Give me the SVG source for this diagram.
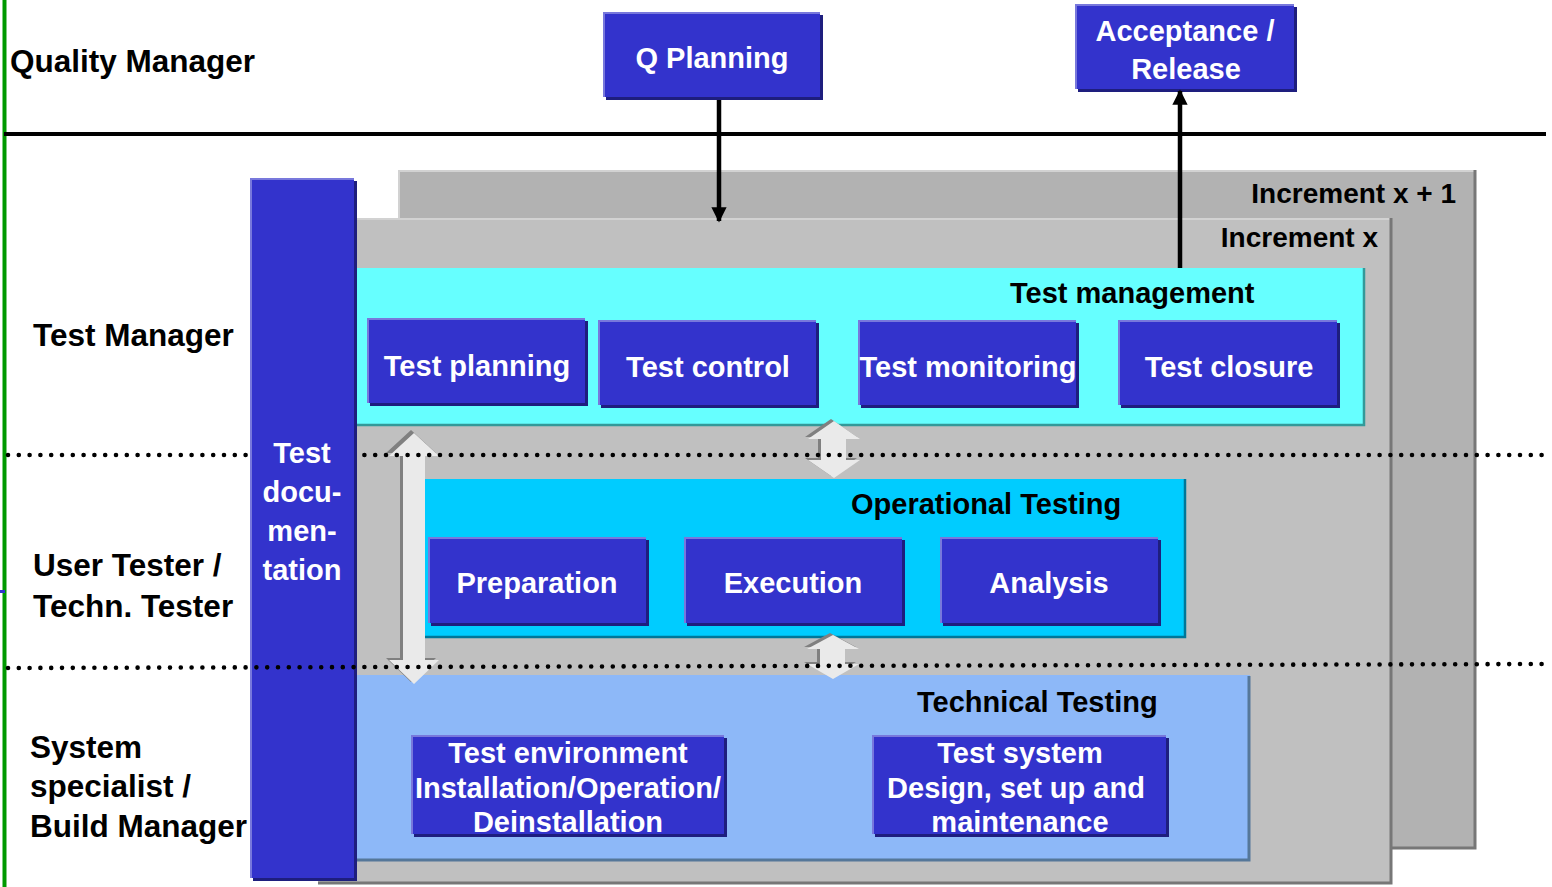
<svg xmlns="http://www.w3.org/2000/svg" width="1552" height="887" viewBox="0 0 1552 887">
<style>
text{font-family:"Liberation Sans",Arial,sans-serif;font-weight:bold}
.role{font-size:31.5px;fill:#000}
.bt{font-size:29px;fill:#fff;text-anchor:middle}
.sec{font-size:29px;fill:#000}
.inc{font-size:28px;fill:#000;text-anchor:end}
.sh{fill:#1E1E7E}
.bx{fill:#3333CC}
.hl{fill:none;stroke:#7878DC;stroke-width:2}
.dots{fill:none;stroke:#000;stroke-width:4.6;stroke-linecap:round;stroke-dasharray:0 10.8}
.conn{stroke:#000;stroke-width:4.5;fill:none}
.arrS{fill:#808080}
.arrL{fill:#EAEAEA}
</style>
<defs>
<marker id="ah" viewBox="0 0 10 10" refX="9" refY="5" markerWidth="3.4" markerHeight="3.4" orient="auto" markerUnits="strokeWidth">
<path d="M0 0 L10 5 L0 10 Z" fill="#000"/>
</marker>
</defs>
<rect width="1552" height="887" fill="#fff"/>

<!-- swimlane lines -->
<g id="lanes">
<line x1="4.5" y1="0" x2="4.5" y2="887" stroke="#009900" stroke-width="4"/>
<rect x="0" y="590" width="5" height="3" fill="#3333CC"/>
<line x1="4" y1="134" x2="1546" y2="134" stroke="#000" stroke-width="4"/>
</g>

<!-- increments -->
<g id="increment-x1">
<rect x="398" y="170" width="1078" height="679" fill="#B2B2B2"/>
<path d="M399 849 V171 H1475" fill="none" stroke="#D2D2D2" stroke-width="2"/>
<path d="M1475 170 V848 H398" fill="none" stroke="#777" stroke-width="3"/>
<text class="inc" x="1456" y="203">Increment x + 1</text>
</g>
<g id="increment-x">
<rect x="318" y="218" width="1074" height="666" fill="#C0C0C0"/>
<path d="M319 884 V219 H1391" fill="none" stroke="#D2D2D2" stroke-width="2"/>
<path d="M1391 218 V883 H318" fill="none" stroke="#777" stroke-width="3"/>
<text class="inc" x="1378" y="247">Increment x</text>
</g>

<!-- Test management -->
<g id="test-management">
<rect x="356" y="268" width="1009" height="158" fill="#66FFFF"/>
<path d="M1364 268 V425 H356" fill="none" stroke="#339999" stroke-width="2.5"/>
<text class="sec" x="1010" y="303">Test management</text>
</g>
<g id="test-planning">
<rect class="sh" x="370" y="321" width="218" height="85"/>
<rect class="bx" x="367" y="318" width="218" height="85"/>
<path class="hl" d="M368 403 V319 H585"/>
<text class="bt" x="477" y="376">Test planning</text>
</g>
<g id="test-control">
<rect class="sh" x="601" y="323" width="218" height="85"/>
<rect class="bx" x="598" y="320" width="218" height="85"/>
<path class="hl" d="M599 405 V321 H816"/>
<text class="bt" x="708" y="377">Test control</text>
</g>
<g id="test-monitoring">
<rect class="sh" x="861" y="323" width="218" height="85"/>
<rect class="bx" x="858" y="320" width="218" height="85"/>
<path class="hl" d="M859 405 V321 H1076"/>
<text class="bt" x="968" y="377">Test monitoring</text>
</g>
<g id="test-closure">
<rect class="sh" x="1121" y="323" width="219" height="85"/>
<rect class="bx" x="1118" y="320" width="219" height="85"/>
<path class="hl" d="M1119 405 V321 H1337"/>
<text class="bt" x="1229" y="377">Test closure</text>
</g>

<!-- Operational testing -->
<g id="operational-testing">
<rect x="425" y="479" width="761" height="159" fill="#00CCFF"/>
<path d="M1185 479 V637 H425" fill="none" stroke="#007799" stroke-width="2.5"/>
<text class="sec" x="851" y="514">Operational Testing</text>
</g>
<g id="preparation">
<rect class="sh" x="431" y="540" width="218" height="86"/>
<rect class="bx" x="428" y="537" width="218" height="86"/>
<path class="hl" d="M429 623 V538 H646"/>
<text class="bt" x="537" y="593">Preparation</text>
</g>
<g id="execution">
<rect class="sh" x="687" y="540" width="218" height="86"/>
<rect class="bx" x="684" y="537" width="218" height="86"/>
<path class="hl" d="M685 623 V538 H902"/>
<text class="bt" x="793" y="593">Execution</text>
</g>
<g id="analysis">
<rect class="sh" x="943" y="540" width="218" height="86"/>
<rect class="bx" x="940" y="537" width="218" height="86"/>
<path class="hl" d="M941 623 V538 H1158"/>
<text class="bt" x="1049" y="593">Analysis</text>
</g>

<!-- Technical testing -->
<g id="technical-testing">
<rect x="356" y="675" width="894" height="186" fill="#8DB8F8"/>
<path d="M1249 676 V860 H356" fill="none" stroke="#557799" stroke-width="3"/>
<text class="sec" x="917" y="712">Technical Testing</text>
</g>
<g id="test-environment">
<rect class="sh" x="414" y="738" width="313" height="99"/>
<rect class="bx" x="411" y="735" width="313" height="99"/>
<path class="hl" d="M412 834 V736 H724"/>
<text class="bt" x="568" y="763">Test environment</text>
<text class="bt" x="568" y="798">Installation/Operation/</text>
<text class="bt" x="568" y="832">Deinstallation</text>
</g>
<g id="test-system">
<rect class="sh" x="875" y="738" width="294" height="99"/>
<rect class="bx" x="872" y="735" width="294" height="99"/>
<path class="hl" d="M873 834 V736 H1166"/>
<text class="bt" x="1020" y="763">Test system</text>
<text class="bt" x="1016" y="798">Design, set up and</text>
<text class="bt" x="1020" y="832">maintenance</text>
</g>

<!-- Quality manager nodes -->
<g id="q-planning">
<rect class="sh" x="606" y="15" width="217" height="85"/>
<rect class="bx" x="603" y="12" width="217" height="85"/>
<path class="hl" d="M604 97 V13 H820"/>
<text class="bt" x="712" y="68">Q Planning</text>
</g>
<g id="acceptance-release">
<rect class="sh" x="1078" y="7" width="219" height="85"/>
<rect class="bx" x="1075" y="4" width="219" height="85"/>
<path class="hl" d="M1076 89 V5 H1294"/>
<text class="bt" x="1185" y="41">Acceptance /</text>
<text class="bt" x="1186" y="79">Release</text>
</g>

<!-- connectors -->
<g id="connectors">
<line class="conn" x1="719" y1="100" x2="719" y2="221" marker-end="url(#ah)"/>
<line class="conn" x1="1180" y1="268" x2="1180" y2="91" marker-end="url(#ah)"/>
<g id="arrow-left">
<polygon class="arrS" points="411,430 436,453 422,453 422,658 436,658 411,682 386,658 400,658 400,453 386,453"/>
<polygon class="arrL" points="414,433 439,456 425,456 425,660 439,660 414,684 389,660 403,660 403,456 389,456"/>
</g>
<g id="arrow-mid-upper">
<polygon class="arrS" points="831,419 857,437 843,437 843,458 857,458 831,476 805,458 818,458 818,437 805,437"/>
<polygon class="arrL" points="834,421 860,439 846,439 846,460 860,460 834,478 808,460 821,460 821,439 808,439"/>
</g>
<g id="arrow-mid-lower">
<polygon class="arrS" points="830,633 856,647 842,647 842,662 856,662 830,676 804,662 817,662 817,647 804,647"/>
<polygon class="arrL" points="833,635 859,649 845,649 845,664 859,664 833,679 807,664 820,664 820,649 807,649"/>
</g>
</g>

<!-- dotted lane separator 1 (below column) -->
<line class="dots" x1="8" y1="455" x2="1546" y2="455"/>

<!-- Test documentation column -->
<g id="test-documentation">
<rect class="sh" x="253" y="181" width="104" height="700"/>
<rect class="bx" x="250" y="178" width="104" height="700"/>
<path class="hl" d="M251 878 V179 H354"/>
<text class="bt" x="302" y="463" font-size="28">Test</text>
<text class="bt" x="302" y="502" font-size="28">docu-</text>
<text class="bt" x="302" y="541" font-size="28">men-</text>
<text class="bt" x="302" y="580" font-size="28">tation</text>
</g>

<!-- dotted lane separator 2 (over column) -->
<line class="dots" x1="8" y1="668" x2="1546" y2="664"/>

<!-- role labels -->
<g id="roles">
<text class="role" x="10" y="72">Quality Manager</text>
<text class="role" x="33" y="346">Test Manager</text>
<text class="role" x="33" y="576">User Tester /</text>
<text class="role" x="33" y="617">Techn. Tester</text>
<text class="role" x="30" y="758">System</text>
<text class="role" x="30" y="797">specialist /</text>
<text class="role" x="30" y="837">Build Manager</text>
</g>
</svg>
